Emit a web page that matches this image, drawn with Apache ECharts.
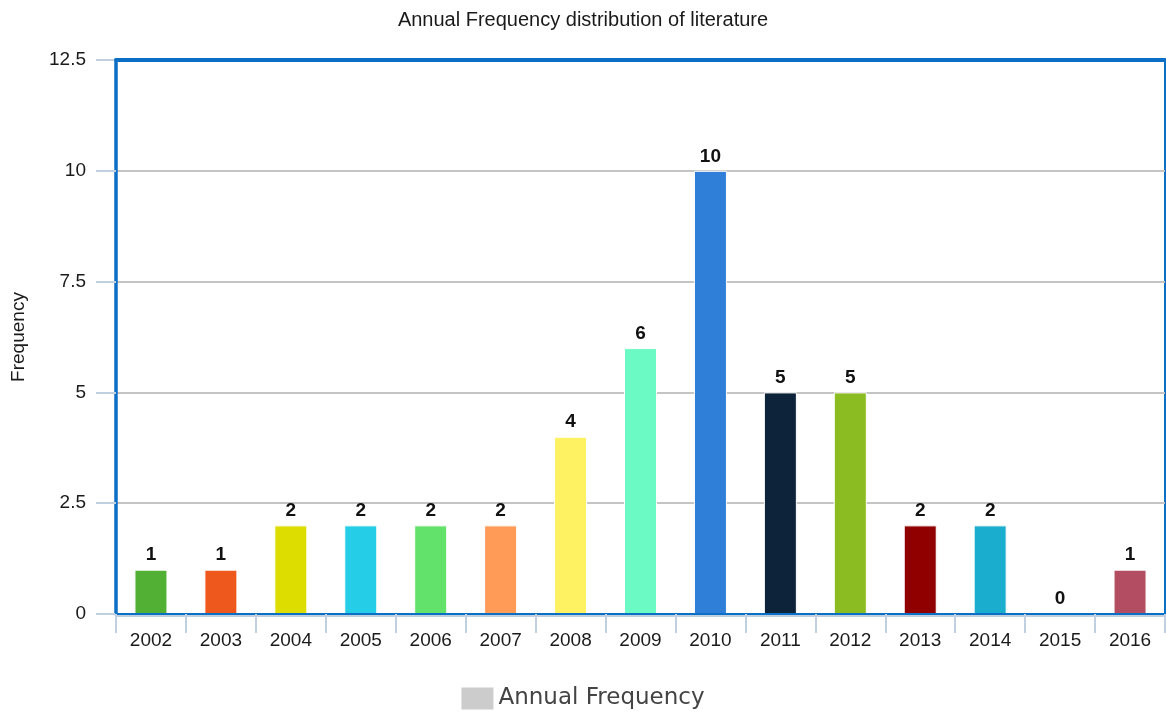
<!DOCTYPE html>
<html>
<head>
<meta charset="utf-8">
<script src="https://cdn.jsdelivr.net/npm/echarts@6/dist/echarts.min.js"></script>
<style>
html,body{margin:0;padding:0;background:#fff;}
#chart{width:1166px;height:715px;}
</style>
</head>
<body>
<div id="chart"></div>
<script>
var categories = ['2002','2003','2004','2005','2006','2007','2008','2009','2010','2011','2012','2013','2014','2015','2016'];
var values = [1,1,2,2,2,2,4,6,10,5,5,2,2,0,1];
var barColors = ['#52b134','#ee581d','#dddd00','#26cde6','#63e26b','#ff9a57','#fff262','#6cfac4','#2f7ed8','#0d233a','#8bbc21','#910000','#1aadce','#492970','#b24d62'];
var yTicks = [0, 2.5, 5, 7.5, 10, 12.5];

var chart = echarts.init(document.getElementById('chart'));
var blue = '#0b6fc6';
chart.setOption({
  animation: false,
  title: {
    text: 'Annual Frequency distribution of literature',
    left: 'center', top: 5,
    textStyle: {fontFamily: 'Liberation Sans', fontSize: 20, fontWeight: 'normal', color: '#1a1a1a'}
  },
  legend: {
    bottom: 0, left: 'center',
    itemWidth: 32, itemHeight: 22, itemGap: 10,
    icon: 'rect',
    textStyle: {fontFamily: 'DejaVu Sans', fontSize: 23, color: '#444'},
    data: ['Annual Frequency']
  },
  grid: {
    left: 116, right: 1, top: 60, bottom: 101,
    show: true, borderColor: blue, borderWidth: 2, backgroundColor: '#fff',
    containLabel: false,
    outerBoundsMode: 'none'
  },
  xAxis: [{
    type: 'category',
    data: categories,
    boundaryGap: true,
    z: 10,
    axisLine: {show: true, onZero: false, lineStyle: {color: blue, width: 2}},
    axisTick: {show: true, alignWithLabel: false, length: 19, lineStyle: {color: '#c0d0e0', width: 2}},
    axisLabel: {fontFamily: 'Liberation Sans', fontSize: 19, color: '#1a1a1a', margin: 17, interval: 0}
  }, {
    type: 'category',
    position: 'top',
    data: categories,
    z: 10,
    axisLine: {show: true, onZero: false, lineStyle: {color: blue, width: 4}},
    axisTick: {show: false},
    axisLabel: {show: false}
  }, {
    type: 'category',
    position: 'bottom',
    offset: 2,
    data: categories,
    z: 9,
    axisLine: {show: true, onZero: false, lineStyle: {color: '#c0d0e0', width: 2}},
    axisTick: {show: false},
    axisLabel: {show: false}
  }],
  yAxis: {
    type: 'value',
    min: 0, max: 12.5, interval: 2.5,
    z: 2,
    name: 'Frequency',
    nameLocation: 'middle',
    nameGap: 88,
    nameRotate: 90,
    nameTextStyle: {fontFamily: 'Liberation Sans', fontSize: 19, color: '#1a1a1a'},
    axisLine: {show: true, lineStyle: {color: blue, width: 3.5}},
    axisTick: {show: true, length: 20, lineStyle: {color: '#c0d0e0', width: 2}},
    axisLabel: {
      fontFamily: 'Liberation Sans', fontSize: 19, color: '#1a1a1a', margin: 30,
      formatter: function (v) { return yTicks.indexOf(v) >= 0 ? String(v) : ''; }
    },
    splitLine: {show: true, lineStyle: {color: '#c4c4c4', width: 2}}
  },
  series: [{
    name: 'Annual Frequency',
    type: 'bar',
    barWidth: 33,
    itemStyle: {color: '#cccccc'},
    data: values.map(function (v, i) {
      return {value: v, itemStyle: {color: barColors[i], borderColor: '#ffffff', borderWidth: 1}};
    }),
    label: {
      show: true, position: 'top', distance: 5,
      fontFamily: 'Liberation Sans', fontSize: 19, fontWeight: 'bold', color: '#111'
    },
    z: 3
  }]
});
</script>
</body>
</html>
